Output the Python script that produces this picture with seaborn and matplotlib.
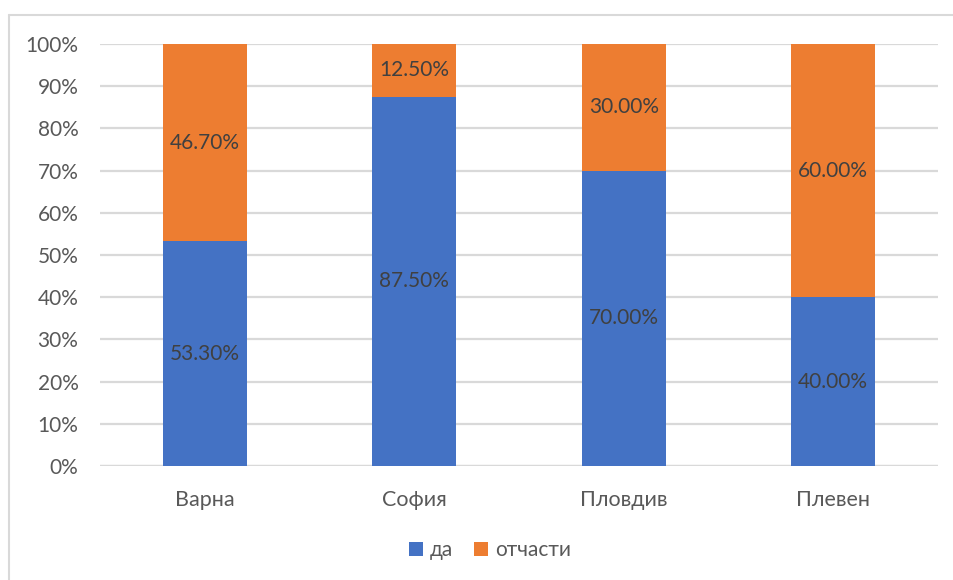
import matplotlib
matplotlib.use("Agg")
import matplotlib.pyplot as plt
from matplotlib.patches import Patch
from matplotlib.lines import Line2D
import seaborn as sns
import pandas as pd

# Share of answers per city (percent)
cities = ["Варна", "София", "Пловдив", "Плевен"]
da = [53.3, 87.5, 70.0, 40.0]
otchasti = [46.7, 12.5, 30.0, 60.0]
series_names = ["да", "отчасти"]
y_ticks = [0, 10, 20, 30, 40, 50, 60, 70, 80, 90, 100]

BLUE = "#4472C4"
ORANGE = "#ED7D31"
TEXT = "#595959"
LABEL = "#404040"
GRID = "#D9D9D9"

sns.set_theme(style="white")
plt.rcParams["font.family"] = ["Lato", "DejaVu Sans"]

df = pd.DataFrame({"city": cities, "da": da, "otchasti": otchasti})
df["total"] = df["da"] + df["otchasti"]

fig = plt.figure(figsize=(9.54, 5.8), dpi=100)
ax = fig.add_axes([100 / 954, 1 - 466 / 580, 838 / 954, 422 / 580])

# stacked bars: full-height "отчасти" bar underneath, "да" drawn from zero
sns.barplot(data=df, x="city", y="total", color=ORANGE, saturation=1,
            width=0.4, ax=ax, zorder=2, edgecolor="none")
sns.barplot(data=df, x="city", y="da", color=BLUE, saturation=1,
            width=0.4, ax=ax, zorder=3, edgecolor="none")

for i, (a, b) in enumerate(zip(da, otchasti)):
    ax.text(i, a / 2, f"{a:.2f}%", ha="center", va="center",
            fontsize=15, color=LABEL, zorder=4)
    ax.text(i, a + b / 2, f"{b:.2f}%", ha="center", va="center",
            fontsize=15, color=LABEL, zorder=4)

ax.set_ylim(0, 100)
ax.set_xlim(-0.5, len(cities) - 0.5)
ax.set_yticks(y_ticks)
ax.set_yticklabels([f"{t}%" for t in y_ticks])
ax.yaxis.grid(True, color=GRID, linewidth=1.6, zorder=0)
ax.set_axisbelow(True)
for s in ax.spines.values():
    s.set_visible(False)
ax.axhline(0, color=GRID, linewidth=1.6, zorder=1)
ax.set_xlabel("")
ax.set_ylabel("")
ax.tick_params(axis="y", length=0, pad=15.5, labelsize=15, labelcolor=TEXT)
ax.tick_params(axis="x", length=0, pad=17, labelsize=15.5, labelcolor=TEXT)

handles = [Patch(facecolor=BLUE, edgecolor="none"),
           Patch(facecolor=ORANGE, edgecolor="none")]
leg = fig.legend(handles, series_names, loc="center", ncol=2,
                 bbox_to_anchor=(490 / 954, 1 - 550 / 580), frameon=False,
                 fontsize=15, handlelength=0.65, handleheight=0.65,
                 handletextpad=0.35, columnspacing=1.0)
for t in leg.get_texts():
    t.set_color(TEXT)

# chart frame (left and top edges)
fig.add_artist(Line2D([9 / 954, 9 / 954], [0, 1 - 15 / 580],
                      transform=fig.transFigure, color=GRID, linewidth=1.5))
fig.add_artist(Line2D([9 / 954, 1], [1 - 15 / 580, 1 - 15 / 580],
                      transform=fig.transFigure, color=GRID, linewidth=1.5))

fig.savefig("out.png", dpi=100, facecolor="white")
